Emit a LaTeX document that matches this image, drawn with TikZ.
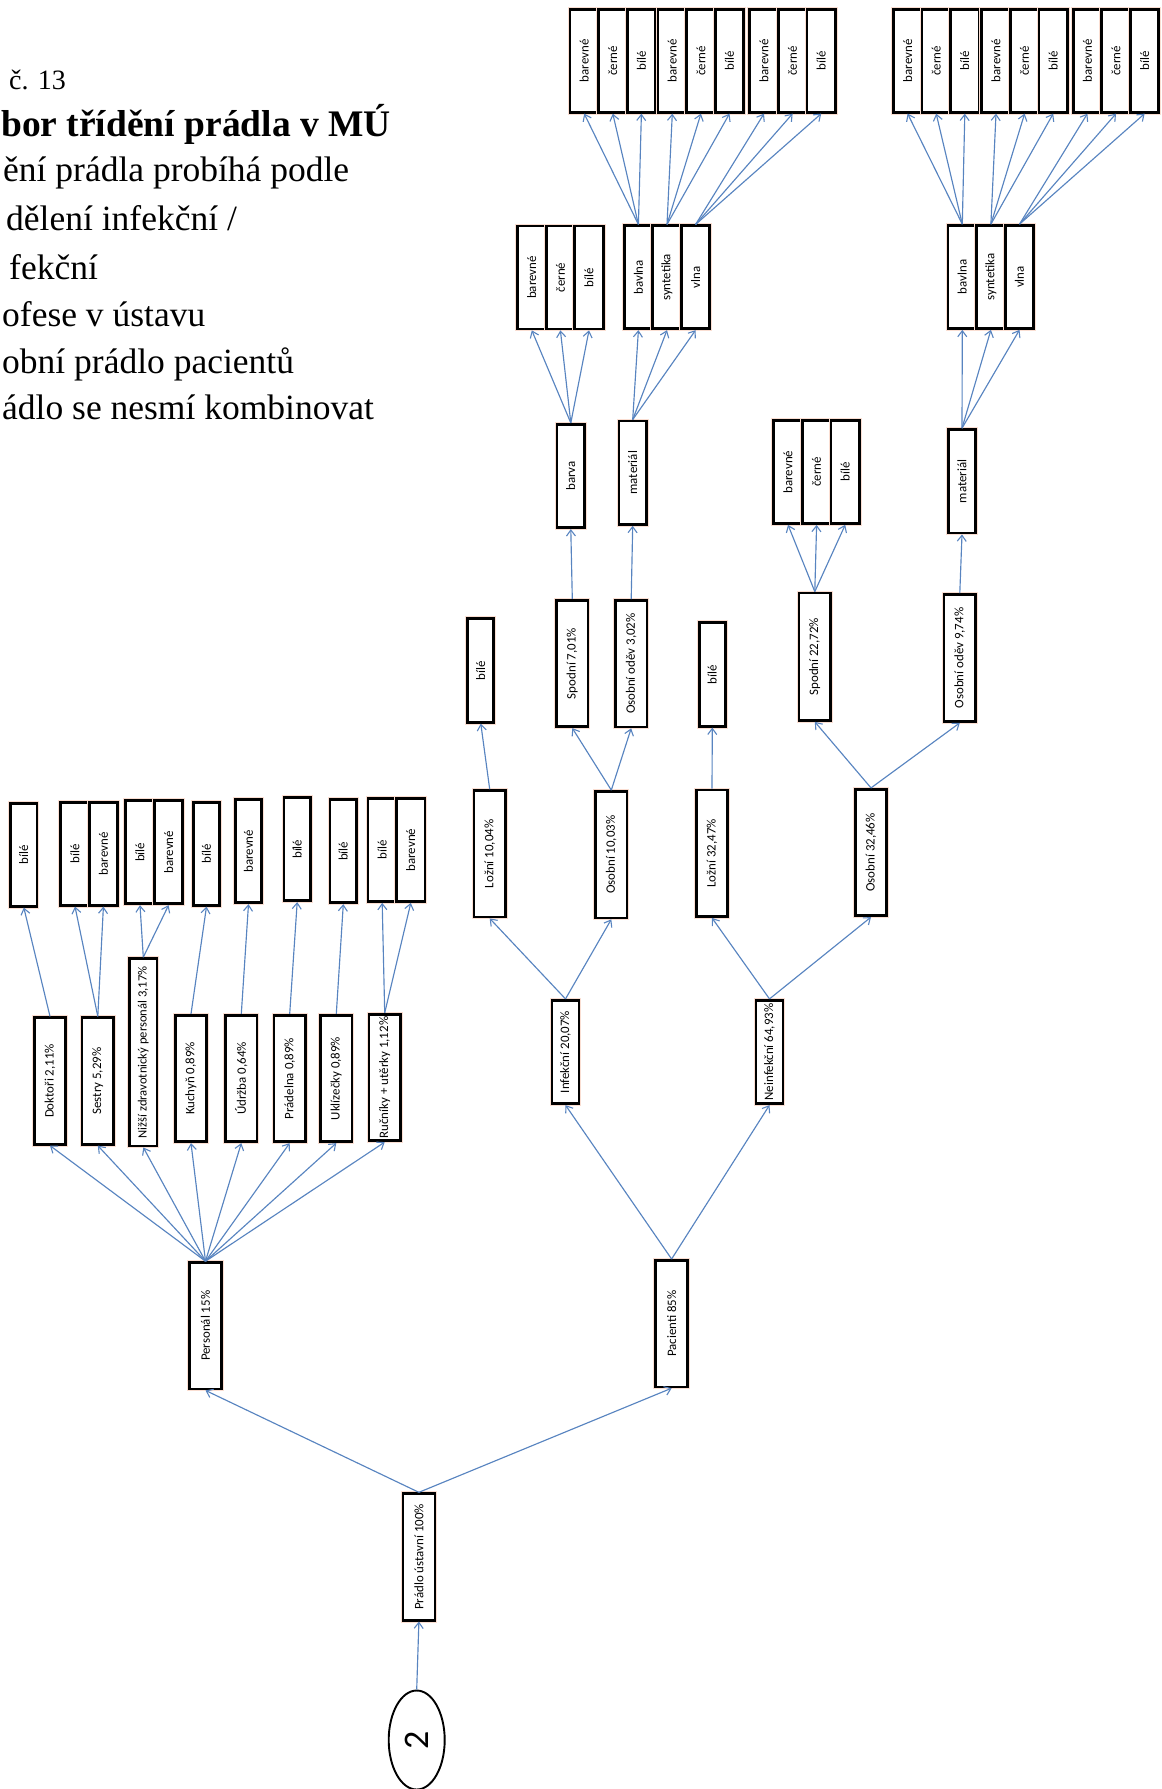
\documentclass[tikz,border=0pt]{standalone}
\usepackage{fontspec}
\setmainfont{Liberation Serif}
\newfontfamily\boxfont{Carlito}
\usetikzlibrary{arrows.meta,shapes.geometric}
\definecolor{conn}{RGB}{88,132,192}
\definecolor{halo}{RGB}{250,222,210}
\tikzset{
  bx/.style={draw=black, line width=2.7pt, fill=white, inner sep=0pt,
    preaction={draw=halo, line width=4.8pt},
    font=\boxfont\fontsize{12.9}{14}\selectfont},
  cell/.style={bx, minimum width=28.4pt, minimum height=103pt},
  sbox/.style={bx, minimum width=27pt, minimum height=103.5pt},
  tbox/.style={bx, minimum width=31.5pt, minimum height=126.5pt},
  cn/.style={draw=conn, line width=1.15pt,
    -{Straight Barb[length=6pt,width=9pt,line width=1.1pt]}},
  ttl/.style={anchor=base west, inner sep=0pt},
  body/.style={ttl, font=\fontsize{35.5}{38}\selectfont},
}
\newcommand{\rt}[1]{\rotatebox{90}{#1}}
\begin{document}
\begin{tikzpicture}[x=1pt,y=-1pt]
\useasboundingbox (0,0) rectangle (1162,1789);

% ---------- title text ----------
\node[ttl, font=\fontsize{28}{30}\selectfont] (h0) at (9,89.5) {č. 13};
\node[ttl, font=\bfseries\fontsize{37.5}{40}\selectfont] (h1) at (1,136.5) {bor třídění prádla v MÚ};
\node[body] (h2) at (3,181) {ění prádla probíhá podle};
\node[body] (h3) at (6,230) {dělení infekční /};
\node[body] (h4) at (9,279) {fekční};
\node[body] (h5) at (2,326) {ofese v ústavu};
\node[body] (h6) at (2,373) {obní prádlo pacientů};
\node[body] (h7) at (2,419) {ádlo se nesmí kombinovat};

% ---------- top groups ----------
\node[cell] (g1a) at (584.2,60.8) {\rt{barevné}};
\node[cell] (g1b) at (612.8,60.8) {\rt{černé}};
\node[cell] (g1c) at (641.4,60.8) {\rt{bílé}};
\node[cell] (g2a) at (672.3,60.8) {\rt{barevné}};
\node[cell] (g2b) at (700.9,60.8) {\rt{černé}};
\node[cell] (g2c) at (729.5,60.8) {\rt{bílé}};
\node[cell] (g3a) at (764.0,60.8) {\rt{barevné}};
\node[cell] (g3b) at (792.6,60.8) {\rt{černé}};
\node[cell] (g3c) at (821.2,60.8) {\rt{bílé}};
\node[cell] (g4a) at (907.6,60.8) {\rt{barevné}};
\node[cell] (g4b) at (936.2,60.8) {\rt{černé}};
\node[cell] (g4c) at (964.8,60.8) {\rt{bílé}};
\node[cell] (g5a) at (996.0,60.8) {\rt{barevné}};
\node[cell] (g5b) at (1024.6,60.8) {\rt{černé}};
\node[cell] (g5c) at (1053.2,60.8) {\rt{bílé}};
\node[cell] (g6a) at (1087.4,60.8) {\rt{barevné}};
\node[cell] (g6b) at (1116.0,60.8) {\rt{černé}};
\node[cell] (g6c) at (1144.6,60.8) {\rt{bílé}};

% ---------- second level triples ----------
\node[cell] (b1a) at (531.8,277.5) {\rt{barevné}};
\node[cell] (b1b) at (560.4,277.5) {\rt{černé}};
\node[cell] (b1c) at (589.0,277.5) {\rt{bílé}};
\node[cell] (m1a) at (638.4,277.3) {\rt{bavlna}};
\node[cell] (m1b) at (667.0,277.3) {\rt{syntetika}};
\node[cell] (m1c) at (695.6,277.3) {\rt{vlna}};
\node[cell] (m2a) at (962.3,277.0) {\rt{bavlna}};
\node[cell] (m2b) at (990.9,277.0) {\rt{syntetika}};
\node[cell] (m2c) at (1019.5,277.0) {\rt{vlna}};

% ---------- barva / material / middle triple ----------
\node[sbox, minimum width=27.5pt] (barva) at (570.8,476) {\rt{barva}};
\node[sbox, minimum width=27.5pt] (mat1) at (632.7,472.7) {\rt{materiál}};
\node[cell] (s2a) at (788.0,472) {\rt{barevné}};
\node[cell] (s2b) at (816.6,472) {\rt{černé}};
\node[cell] (s2c) at (845.2,472) {\rt{bílé}};
\node[sbox, minimum width=27.5pt] (mat2) at (962,481.3) {\rt{materiál}};

% ---------- third level ----------
\node[tbox] (spod1) at (572.3,663.5) {\rt{Spodní 7,01\%}};
\node[tbox] (odev1) at (631.2,663.7) {\rt{Osobní oděv 3,02\%}};
\node[sbox, minimum width=26pt] (bile1) at (480.8,670.5) {\rt{bílé}};
\node[sbox, minimum width=26pt] (bile2) at (712.3,674.5) {\rt{bílé}};
\node[tbox, minimum height=127.5pt] (spod2) at (814.8,656.7) {\rt{Spodní 22,72\%}};
\node[tbox, minimum height=127pt] (odev2) at (959.8,658) {\rt{Osobní oděv 9,74\%}};

\node[tbox] (lozni1) at (489.7,853.8) {\rt{Ložní 10,04\%}};
\node[tbox] (osob1) at (611.3,854.7) {\rt{Osobní 10,03\%}};
\node[tbox] (lozni2) at (712,853.3) {\rt{Ložní 32,47\%}};
\node[tbox] (osob2) at (871,852.5) {\rt{Osobní 32,46\%}};

\node[sbox] (infek) at (565.5,1052) {\rt{Infekční 20,07\%}};
\node[sbox] (neinfek) at (769.5,1052) {\rt{Neinfekční 64,93\%}};

% ---------- personal: top row ----------
\node[cell, minimum width=26.5pt] (d1) at (23.8,854.7) {\rt{bílé}};
\node[cell] (s1) at (75.0,853.7) {\rt{bílé}};
\node[cell] (s2) at (103.4,853.7) {\rt{barevné}};
\node[cell] (n1) at (140.0,852.3) {\rt{bílé}};
\node[cell] (n2) at (168.6,852.3) {\rt{barevné}};
\node[cell, minimum width=26.5pt] (k1) at (206.5,853.7) {\rt{bílé}};
\node[cell, minimum width=26.5pt] (u1) at (248.5,851.3) {\rt{barevné}};
\node[cell, minimum width=26.5pt] (p1) at (297.2,849.2) {\rt{bílé}};
\node[cell, minimum width=26.5pt] (ukl1) at (343.3,851.3) {\rt{bílé}};
\node[cell] (r1) at (382.2,850) {\rt{bílé}};
\node[cell] (r2) at (410.8,850) {\rt{barevné}};

% ---------- personal: middle row ----------
\node[tbox] (doktori) at (50,1081) {\rt{Doktoři 2,11\%}};
\node[tbox] (sestry) at (97.8,1081) {\rt{Sestry 5,29\%}};
\node[tbox, minimum width=27.5pt, minimum height=187.5pt, font=\boxfont\fontsize{12.6}{14}\selectfont] (nizsi) at (143.3,1052.3) {\rt{Nižší zdravotnický personál 3,17\%}};
\node[tbox] (kuchyn) at (191,1078.5) {\rt{Kuchyň 0,89\%}};
\node[tbox] (udrzba) at (241.3,1078.5) {\rt{Údržba 0,64\%}};
\node[tbox] (pradelna) at (289.7,1078.5) {\rt{Prádelna 0,89\%}};
\node[tbox] (uklizecky) at (336.3,1078.5) {\rt{Uklízečky 0,89\%}};
\node[tbox] (rucniky) at (384.7,1077.5) {\rt{Ručníky + utěrky 1,12\%}};

% ---------- lower levels ----------
\node[tbox, minimum width=32pt] (personal) at (205.5,1325.8) {\rt{Personál 15\%}};
\node[tbox, minimum width=32pt] (pacienti) at (671.6,1323.6) {\rt{Pacienti 85\%}};
\node[tbox, minimum width=32pt] (pradlo) at (418.9,1556.9) {\rt{Prádlo ústavní 100\%}};
\node[draw=black, line width=1.9pt, fill=white, ellipse, inner sep=0pt,
      minimum width=56pt, minimum height=99pt, font=\boxfont\fontsize{36}{40}\selectfont]
      (start) at (416.7,1740) {\rt{2}};

% ---------- connectors ----------
\draw[cn] (start.north) -- (pradlo.south);
\draw[cn] (pradlo.north) -- (personal.south);
\draw[cn] (pradlo.north) -- (pacienti.south);
\foreach \t in {doktori,sestry,nizsi,kuchyn,udrzba,pradelna,uklizecky,rucniky}
  \draw[cn] (personal.north) -- (\t.south);
\draw[cn] (doktori.north) -- (d1.south);
\draw[cn] (sestry.north) -- (s1.south);
\draw[cn] (sestry.north) -- (s2.south);
\draw[cn] (nizsi.north) -- (n1.south);
\draw[cn] (nizsi.north) -- (n2.south);
\draw[cn] (kuchyn.north) -- (k1.south);
\draw[cn] (udrzba.north) -- (u1.south);
\draw[cn] (pradelna.north) -- (p1.south);
\draw[cn] (uklizecky.north) -- (ukl1.south);
\draw[cn] (rucniky.north) -- (r1.south);
\draw[cn] (rucniky.north) -- (r2.south);

\draw[cn] (pacienti.north) -- (infek.south);
\draw[cn] (pacienti.north) -- (neinfek.south);
\draw[cn] (infek.north) -- (lozni1.south);
\draw[cn] (infek.north) -- (osob1.south);
\draw[cn] (neinfek.north) -- (lozni2.south);
\draw[cn] (neinfek.north) -- (osob2.south);
\draw[cn] (lozni1.north) -- (bile1.south);
\draw[cn] (lozni2.north) -- (bile2.south);
\draw[cn] (osob1.north) -- (spod1.south);
\draw[cn] (osob1.north) -- (odev1.south);
\draw[cn] (osob2.north) -- (spod2.south);
\draw[cn] (osob2.north) -- (odev2.south);
\draw[cn] (spod1.north) -- (barva.south);
\draw[cn] (odev1.north) -- (mat1.south);
\draw[cn] (odev2.north) -- (mat2.south);
\foreach \t in {s2a,s2b,s2c} \draw[cn] (spod2.north) -- (\t.south);
\foreach \t in {b1a,b1b,b1c} \draw[cn] (barva.north) -- (\t.south);
\foreach \t in {m1a,m1b,m1c} \draw[cn] (mat1.north) -- (\t.south);
\foreach \t in {m2a,m2b,m2c} \draw[cn] (mat2.north) -- (\t.south);
\foreach \t in {g1a,g1b,g1c} \draw[cn] (m1a.north) -- (\t.south);
\foreach \t in {g2a,g2b,g2c} \draw[cn] (m1b.north) -- (\t.south);
\foreach \t in {g3a,g3b,g3c} \draw[cn] (m1c.north) -- (\t.south);
\foreach \t in {g4a,g4b,g4c} \draw[cn] (m2a.north) -- (\t.south);
\foreach \t in {g5a,g5b,g5c} \draw[cn] (m2b.north) -- (\t.south);
\foreach \t in {g6a,g6b,g6c} \draw[cn] (m2c.north) -- (\t.south);
\end{tikzpicture}
\end{document}
